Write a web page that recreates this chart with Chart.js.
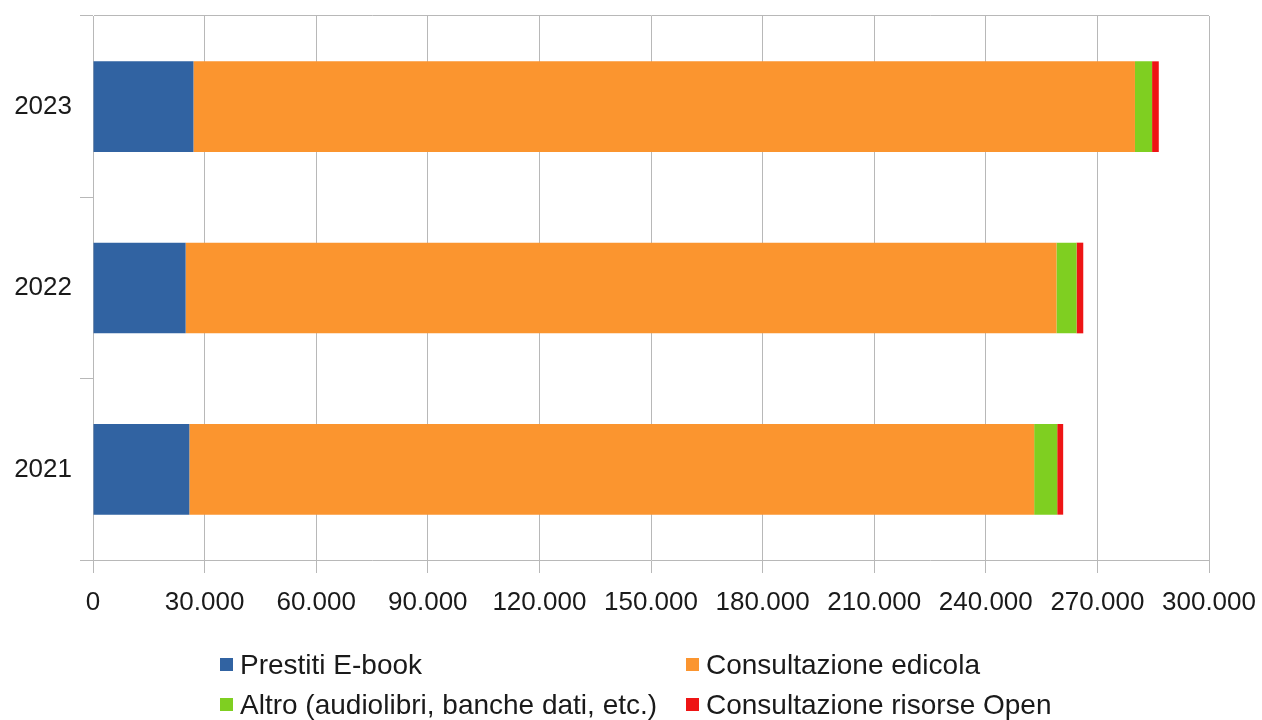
<!DOCTYPE html>
<html>
<head>
<meta charset="utf-8">
<script src="https://cdn.jsdelivr.net/npm/chart.js@4.4.1/dist/chart.umd.min.js"></script>
<style>
  html, body { margin: 0; padding: 0; background: #ffffff; }
  #wrap { position: relative; width: 1262px; height: 720px; overflow: hidden; }
  canvas { position: absolute; left: 0; top: 0; }
  .lg { position: absolute; font-family: "Liberation Sans", Arial, sans-serif;
        font-size: 28px; color: #1a1a1a; white-space: nowrap; line-height: 40px; }
  .lg span.box { display: inline-block; width: 13px; height: 13px; margin-right: 7px; vertical-align: middle; position: relative; top: -2px; }
</style>
</head>
<body>
<div id="wrap">
  <canvas id="c" width="1262" height="720"></canvas>
  <div id="legend"></div>
</div>
<script>
// ---- data ----
const years = ['2023', '2022', '2021'];
const prestitiEbook = [27000, 24900, 25900];
const consultazioneEdicola = [253100, 234100, 227100];
const altro = [4600, 5400, 6200];
const risorseOpen = [1800, 1800, 1600];
const seriesNames = ['Prestiti E-book', 'Consultazione edicola', 'Altro (audiolibri, banche dati, etc.)', 'Consultazione risorse Open'];
const xTickStep = 30000;
const xMax = 300000;

const colors = ['#3163a2', '#fb952f', '#7fcf21', '#ee1414'];
const gridCol = '#b8b8b8';
const fontFam = '"Liberation Sans", Arial, sans-serif';

function fmt(v) {
  return String(v).replace(/\B(?=(\d{3})+(?!\d))/g, '.');
}

const values = [prestitiEbook, consultazioneEdicola, altro, risorseOpen];
const datasets = values.map((d, i) => ({
  label: seriesNames[i],
  data: d,
  backgroundColor: colors[i],
  borderWidth: 0,
  categoryPercentage: 1.0,
  barPercentage: 0.5
}));

new Chart(document.getElementById('c'), {
  type: 'bar',
  data: { labels: years, datasets: datasets },
  options: {
    indexAxis: 'y',
    responsive: false,
    devicePixelRatio: 1,
    animation: false,
    layout: { padding: { left: 0, right: 53, top: 16, bottom: 100 } },
    plugins: { legend: { display: false }, tooltip: { enabled: false } },
    scales: {
      x: {
        stacked: true,
        min: 0, max: xMax,
        afterFit: (s) => { s.height = 60; s.paddingLeft = 0; s.paddingRight = 0; },
        ticks: { stepSize: xTickStep, callback: (v) => fmt(v), color: '#1a1a1a',
                 font: { family: fontFam, size: 26 }, padding: 14, maxRotation: 0, autoSkip: false },
        grid: { color: gridCol, tickColor: gridCol, tickLength: 13, lineWidth: 1 },
        border: { color: gridCol }
      },
      y: {
        stacked: true,
        afterFit: (s) => { s.width = 93; s.paddingTop = 0; s.paddingBottom = 0; },
        ticks: { color: '#1a1a1a', font: { family: fontFam, size: 26 }, padding: 8 },
        grid: { offset: true, drawOnChartArea: true,
                color: (ctx) => ctx.index === 0 ? gridCol : 'rgba(0,0,0,0)',
                tickColor: gridCol, tickLength: 13 },
        border: { color: gridCol }
      }
    }
  }
});

// legend (two columns like the reference)
const legend = document.getElementById('legend');
const pos = [[220, 645], [686, 645], [220, 685], [686, 685]];
seriesNames.forEach((n, i) => {
  const d = document.createElement('div');
  d.className = 'lg';
  d.style.left = pos[i][0] + 'px';
  d.style.top = pos[i][1] + 'px';
  d.innerHTML = '<span class="box" style="background:' + colors[i] + '"></span>';
  d.appendChild(document.createTextNode(n));
  legend.appendChild(d);
});
</script>
</body>
</html>
